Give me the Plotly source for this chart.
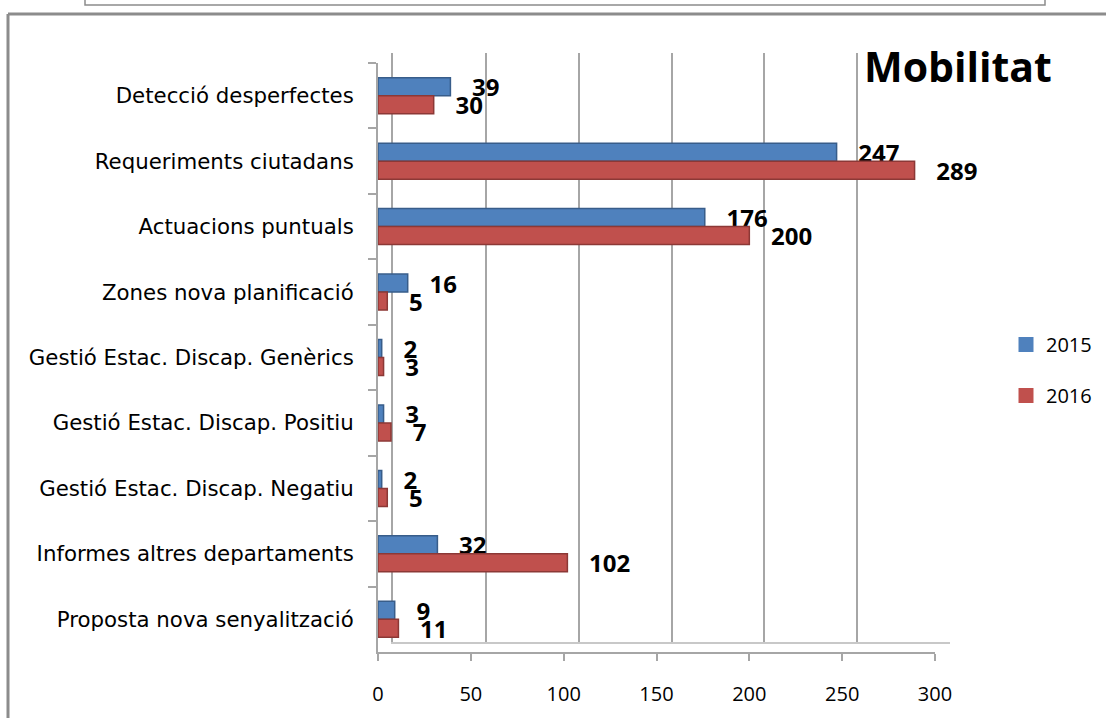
import plotly.graph_objects as go

categories = [
    "Detecció desperfectes",
    "Requeriments ciutadans",
    "Actuacions puntuals",
    "Zones nova planificació",
    "Gestió Estac. Discap. Genèrics",
    "Gestió Estac. Discap. Positiu",
    "Gestió Estac. Discap. Negatiu",
    "Informes altres departaments",
    "Proposta nova senyalització",
]
values_2015 = [39, 247, 176, 16, 2, 3, 2, 32, 9]
values_2016 = [30, 289, 200, 5, 3, 7, 5, 102, 11]
x_ticks = [0, 50, 100, 150, 200, 250, 300]

W, H = 1106, 718
FONT = "Open Sans"
LABEL_FONT = "DejaVu Sans"
grey = "#8C8C8C"
axis_grey = "#A6A6A6"


def fx(x):
    # pixel -> paper (margins are zero)
    return x / W


def fy(y):
    return (H - y) / H


fig = go.Figure()

# bars sit on the front plane (x2/y2)
for name, vals, color, edge in (
    ("2015", values_2015, "#4F81BD", "#385D8A"),
    ("2016", values_2016, "#C0504D", "#8C3836"),
):
    fig.add_trace(
        go.Bar(
            y=categories,
            x=vals,
            name=name,
            orientation="h",
            xaxis="x2",
            yaxis="y2",
            marker=dict(color=color, line=dict(color=edge, width=1.5)),
            text=[f"   {v}" for v in vals],
            textposition="outside",
            constraintext="none",
            cliponaxis=False,
            textfont=dict(family=FONT, size=24, color="black", weight="bold"),
            showlegend=False,
        )
    )
    # legend entry with a bigger square swatch
    fig.add_trace(
        go.Scatter(
            x=[None],
            y=[None],
            mode="markers",
            name=name,
            legendgroup=name,
            marker=dict(symbol="square", size=15, color=color),
            xaxis="x",
            yaxis="y",
        )
    )

fig.update_layout(
    width=W,
    height=H,
    margin=dict(l=0, r=0, t=0, b=0, autoexpand=False),
    paper_bgcolor="white",
    plot_bgcolor="rgba(0,0,0,0)",
    barmode="group",
    bargap=0.45,
    bargroupgap=0.0,
    font=dict(family=FONT, size=20, color="black"),
    title=dict(
        text="<b>Mobilitat</b>",
        font=dict(family=FONT, size=41, color="black"),
        xref="container",
        x=fx(864),
        xanchor="left",
        yref="container",
        y=fy(68),
        yanchor="middle",
    ),
    legend=dict(
        x=fx(1006),
        y=fy(370),
        xanchor="left",
        yanchor="middle",
        font=dict(family=FONT, size=20),
        tracegroupgap=22,
        bgcolor="rgba(0,0,0,0)",
    ),
    showlegend=True,
    # back wall: only gridlines, shifted for the 3-D depth
    xaxis=dict(
        domain=[fx(393), fx(950)],
        range=[0, 300],
        tickvals=x_ticks,
        showgrid=True,
        gridcolor=axis_grey,
        gridwidth=1.5,
        showticklabels=False,
        ticks="",
        zeroline=False,
        showline=True,
        linecolor="#C8C8C8",
        linewidth=1.5,
        anchor="y",
        fixedrange=True,
    ),
    yaxis=dict(
        domain=[fy(642), fy(53)],
        range=[0, 1],
        showticklabels=False,
        ticks="",
        showgrid=False,
        zeroline=False,
        showline=True,
        linecolor=axis_grey,
        linewidth=1.5,
        anchor="x",
        fixedrange=True,
    ),
    # front plane: bars, axes, tick labels
    xaxis2=dict(
        domain=[fx(378), fx(935)],
        range=[0, 300],
        tickvals=x_ticks,
        showgrid=False,
        zeroline=False,
        showline=True,
        linecolor=axis_grey,
        linewidth=2,
        ticks="outside",
        ticklen=7,
        tickcolor=axis_grey,
        tickwidth=2,
        ticklabelstandoff=16,
        tickfont=dict(family=FONT, size=20),
        anchor="y2",
        fixedrange=True,
    ),
    yaxis2=dict(
        domain=[fy(652), fy(63)],
        autorange="reversed",
        showline=True,
        linecolor=axis_grey,
        linewidth=2,
        ticks="outside",
        ticklen=8,
        tickcolor=axis_grey,
        tickwidth=2,
        tickson="boundaries",
        ticklabelstandoff=18,
        tickfont=dict(family=LABEL_FONT, size=21.3),
        showgrid=False,
        anchor="x2",
        fixedrange=True,
    ),
    shapes=[
        dict(type="line", xref="paper", yref="paper", x0=fx(8), x1=fx(W + 5),
             y0=fy(14), y1=fy(14), line=dict(color=grey, width=3)),
        dict(type="line", xref="paper", yref="paper", x0=fx(8), x1=fx(8),
             y0=fy(14), y1=fy(H + 5), line=dict(color=grey, width=3)),
        dict(type="rect", xref="paper", yref="paper", x0=fx(85), x1=fx(1045),
             y0=fy(5), y1=fy(-10), line=dict(color=grey, width=1.5)),
    ],
)

fig.write_html(
    "out.html",
    config={"displayModeBar": False},
    post_script="document.body.style.margin='0px';",
)
